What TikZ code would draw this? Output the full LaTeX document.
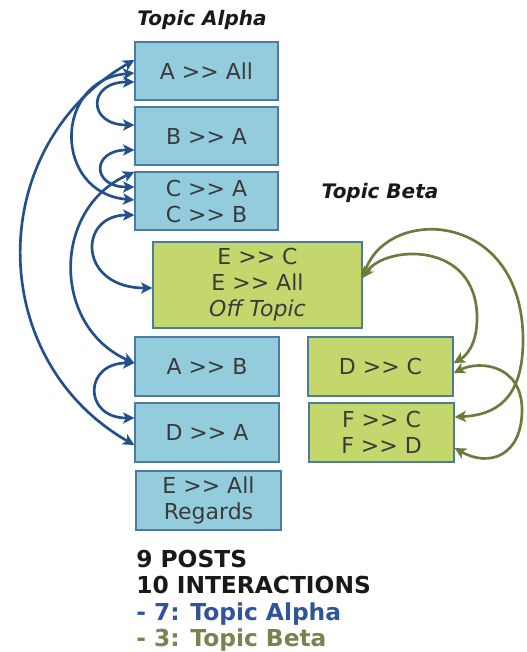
\documentclass[tikz,border=0pt]{standalone}
\usepackage{fontspec}
\setmainfont{DejaVu Sans}
\usetikzlibrary{arrows.meta}
\definecolor{boxblue}{HTML}{93CDDD}
\definecolor{boxgreen}{HTML}{C4D76C}
\definecolor{edgecol}{HTML}{4F7AA0}
\definecolor{arrblue}{HTML}{23508C}
\definecolor{arrolive}{HTML}{6E7A3C}
\definecolor{txtgray}{HTML}{3A3A3A}
\definecolor{sumblue}{HTML}{2F5597}
\definecolor{sumolive}{HTML}{77844E}
\newcommand{\gtgt}{>\kern0pt>}
\begin{document}
\begin{tikzpicture}[x=0.75pt,y=-0.75pt,
  >={Stealth[length=8.5pt,width=8.5pt,inset=2.2pt]},
  post/.style={draw=edgecol, line width=1pt, inner sep=0pt, text=txtgray,
    font=\fontsize{16.5}{19.5}\selectfont, align=center},
  bluepost/.style={post, fill=boxblue},
  greenpost/.style={post, fill=boxgreen},
  ablue/.style={draw=arrblue, line width=2pt, <->},
  aolive/.style={draw=arrolive, line width=2pt, <->},
  heading/.style={inner sep=0pt, text=black!90, font=\bfseries\itshape\fontsize{15}{18}\selectfont, anchor=base},
  sumtext/.style={inner sep=0pt, anchor=base west, font=\bfseries\fontsize{17.5}{20}\selectfont}]
\useasboundingbox (0,0) rectangle (526,652);

% headings
\node[heading] (hA) at (202,26) {Topic Alpha};
\node[heading] (hB) at (380,199) {Topic Beta};

% posts
\node[bluepost, minimum width=143*0.75pt, minimum height=58*0.75pt] (nA) at (206.5,71) {A \gtgt{} All};
\node[bluepost, minimum width=143*0.75pt, minimum height=58*0.75pt] (nB) at (206.5,136) {B \gtgt{} A};
\node[bluepost, minimum width=143*0.75pt, minimum height=58*0.75pt] (nC) at (206.5,201) {C \gtgt{} A\\C \gtgt{} B};
\node[greenpost, minimum width=209*0.75pt, minimum height=86*0.75pt] (nE) at (257.5,285) {E \gtgt{} C\\E \gtgt{} All\\\textit{Off Topic}};
\node[bluepost, minimum width=144*0.75pt, minimum height=59*0.75pt] (nAB) at (207,366.5) {A \gtgt{} B};
\node[bluepost, minimum width=144*0.75pt, minimum height=59*0.75pt] (nDA) at (207,432.5) {D \gtgt{} A};
\node[bluepost, minimum width=145*0.75pt, minimum height=59*0.75pt] (nER) at (208.5,500.5) {E \gtgt{} All\\Regards};
\node[greenpost, minimum width=145*0.75pt, minimum height=59*0.75pt] (nDC) at (380.5,366.5) {D \gtgt{} C};
\node[greenpost, minimum width=145*0.75pt, minimum height=59*0.75pt] (nF) at (381.5,432.5) {F \gtgt{} C\\F \gtgt{} D};

% blue interactions
\draw[ablue] (nA.west |- 0,82) .. controls +(-47,0) and +(-47,0) .. (nB.west |- 0,125);
\draw[ablue] (nB.west |- 0,150) .. controls +(-43,0) and +(-43,0) .. (nC.west |- 0,187);
\draw[ablue] (nA.west |- 0,73) .. controls +(-81.3,7.1) and +(-81.3,-7.1) .. (nC.west |- 0,200);
\draw[ablue] (nA.west |- 0,60) .. controls +(-150,86) and +(-150,-86) .. (nDA.west |- 0,445);
\draw[ablue] (nC.west |- 0,172) .. controls +(-82.6,36.8) and +(-82.6,-36.8) .. (nAB.west |- 0,363);
\draw[ablue] (nC.west |- 0,215) .. controls +(-57,0) and +(-74,0) .. (nE.west |- 0,288);
\draw[ablue] (nAB.west |- 0,363) .. controls +(-51,0) and +(-51,0) .. (nDA.west |- 0,418);

% olive interactions
\draw[aolive] (nE.east |- 0,278) .. controls (385,245) and (477,240) .. (477,318)
   .. controls (477,345) and (466,356) .. (nDC.east |- 0,363);
\draw[aolive] (nE.east |- 0,278) .. controls (388,205) and (523,210) .. (523,340)
   .. controls (523,400) and (495,415) .. (nF.east |- 0,417);
\draw[aolive] (nDC.east |- 0,373) .. controls (480,360) and (522,365) .. (522,410)
   .. controls (522,455) and (490,468) .. (nF.east |- 0,448);

% summary
\node[sumtext, text=black!90] (s1) at (136,567) {9 POSTS};
\node[sumtext, text=black!90] (s2) at (136,593) {10 INTERACTIONS};
\node[sumtext, text=sumblue] (s3) at (136,620) {- 7: Topic Alpha};
\node[sumtext, text=sumolive] (s4) at (136,646) {- 3: Topic Beta};
\end{tikzpicture}
\end{document}
